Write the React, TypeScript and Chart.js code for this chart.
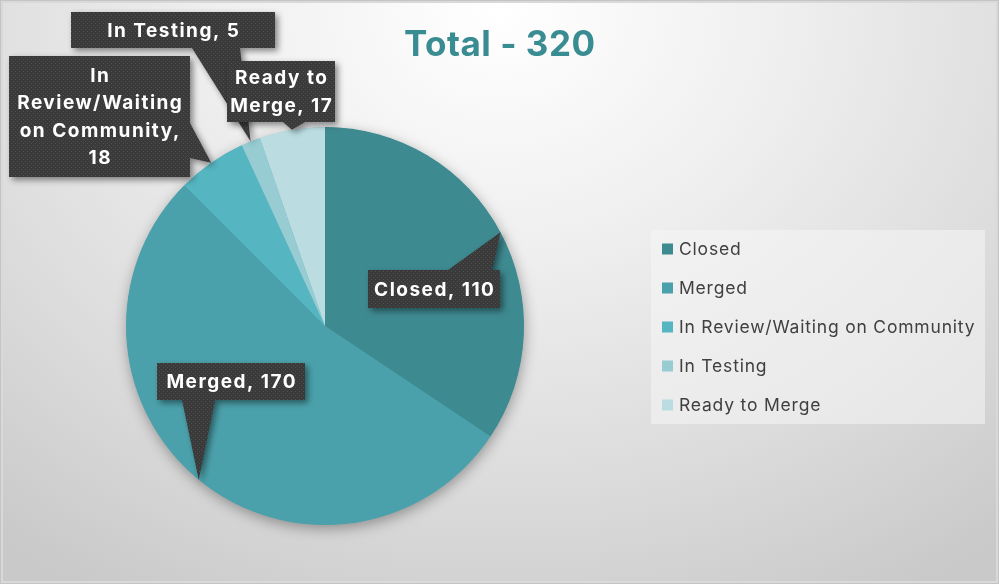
import React, { useEffect, useRef } from "react";
import { Chart, registerables } from "chart.js";

Chart.register(...registerables);

// ---- data ----
const categories = [
  "Closed",
  "Merged",
  "In Review/Waiting on Community",
  "In Testing",
  "Ready to Merge",
];
const values = [110, 170, 18, 5, 17];
const sliceColors = ["#3E8A91", "#4BA1AB", "#55B5C1", "#97CCD3", "#BBDDE2"];
// how each callout label is broken into lines (category, value)
const calloutBreaks = [
  ["Closed, 110"],
  ["Merged, 170"],
  ["In", "Review/Waiting", "on Community,", "18"],
  ["In Testing, 5"],
  ["Ready to", "Merge, 17"],
];
const titleText = "Total - " + values.reduce((a, b) => a + b, 0);

// ---- callout layout (relative to pie centre, in px) ----
// box: [dx, dy, w, h]; base: pointer base points [dx1, dy1, dx2, dy2]
const calloutBoxes = [
  { box: [43, -56, 132, 38], base: [123, -56, 167, -56] },
  { box: [-168, 37, 148, 37], base: [-143, 74, -110, 74] },
  { box: [-316, -270, 181, 121], base: [-135, -203, -135, -168] },
  { box: [-254, -314, 204, 36], base: [-133, -278, -85, -278] },
  { box: [-98, -265, 108, 61], base: [-42, -204, -20, -204] },
];

const FONT = "Inter, 'Open Sans', 'DejaVu Sans', sans-serif";

function makePattern(ctx: CanvasRenderingContext2D) {
  const c = document.createElement("canvas");
  c.width = 4;
  c.height = 4;
  const p = c.getContext("2d")!;
  p.fillStyle = "#3a3a3a";
  p.fillRect(0, 0, 4, 4);
  p.fillStyle = "#505050";
  p.fillRect(1, 1, 1, 1);
  p.fillRect(3, 3, 1, 1);
  return ctx.createPattern(c, "repeat")!;
}

function spacedCentered(ctx: any, text: string, x: number, y: number, spacing: number) {
  ctx.letterSpacing = spacing + "px";
  const w = ctx.measureText(text).width;
  ctx.textAlign = "left";
  ctx.fillText(text, x - (w - spacing) / 2, y);
}

const decorPlugin = {
  id: "decor",
  beforeDatasetsDraw(chart: any) {
    const meta = chart.getDatasetMeta(0);
    const arc = meta.data[0];
    if (!arc) return;
    const ctx = chart.ctx as CanvasRenderingContext2D;
    ctx.save();
    ctx.shadowColor = "rgba(0,0,0,0.35)";
    ctx.shadowBlur = 14;
    ctx.shadowOffsetX = 1;
    ctx.shadowOffsetY = 4;
    ctx.beginPath();
    ctx.arc(arc.x, arc.y, arc.outerRadius - 0.5, 0, Math.PI * 2);
    ctx.fillStyle = sliceColors[1];
    ctx.fill();
    ctx.restore();
  },
  afterDatasetsDraw(chart: any) {
    const ctx = chart.ctx as any;
    const meta = chart.getDatasetMeta(0);
    const pattern = makePattern(ctx);

    meta.data.forEach((arc: any, i: number) => {
      const cfg = calloutBoxes[i];
      const cx = arc.x;
      const cy = arc.y;
      const mid = (arc.startAngle + arc.endAngle) / 2;
      const tipX = cx + Math.cos(mid) * arc.outerRadius;
      const tipY = cy + Math.sin(mid) * arc.outerRadius;
      const [bx, by, bw, bh] = cfg.box;
      const left = cx + bx;
      const top = cy + by;
      const [p1x, p1y, p2x, p2y] = cfg.base;

      ctx.save();
      ctx.beginPath();
      ctx.rect(left, top, bw, bh);
      ctx.moveTo(cx + p1x, cy + p1y);
      ctx.lineTo(tipX, tipY);
      ctx.lineTo(cx + p2x, cy + p2y);
      ctx.closePath();
      ctx.shadowColor = "rgba(0,0,0,0.45)";
      ctx.shadowBlur = 6;
      ctx.shadowOffsetX = 3;
      ctx.shadowOffsetY = 3;
      ctx.fillStyle = pattern;
      ctx.fill();
      ctx.restore();

      const lines = calloutBreaks[i];
      const lh = 27.5;
      ctx.save();
      ctx.font = `bold 19px ${FONT}`;
      ctx.fillStyle = "#ffffff";
      ctx.textBaseline = "middle";
      const startY = top + bh / 2 - ((lines.length - 1) * lh) / 2 + 1;
      lines.forEach((ln, k) => {
        spacedCentered(ctx, ln, left + bw / 2, startY + k * lh, 1.5);
      });
      ctx.restore();
    });

    // title
    ctx.save();
    ctx.font = `bold 35px ${FONT}`;
    ctx.fillStyle = "#3A8C93";
    ctx.textBaseline = "middle";
    spacedCentered(ctx, titleText, chart.width / 2, 45, 0.5);
    ctx.restore();

    // legend
    const lx = 651, ly = 230, lw = 334, lhgt = 194;
    ctx.save();
    ctx.fillStyle = "rgba(245,245,245,0.55)";
    ctx.fillRect(lx, ly, lw, lhgt);
    ctx.font = `17.5px ${FONT}`;
    ctx.letterSpacing = "0.8px";
    ctx.textBaseline = "middle";
    ctx.textAlign = "left";
    categories.forEach((c, i) => {
      const y = ly + 19 + i * 39;
      ctx.fillStyle = sliceColors[i];
      ctx.fillRect(lx + 11, y - 5.5, 11, 11);
      ctx.fillStyle = "#404040";
      ctx.fillText(c, lx + 28, y + 0.5);
    });
    ctx.restore();
  },
};

export default function App() {
  const ref = useRef<HTMLCanvasElement | null>(null);
  useEffect(() => {
    if (!ref.current) return;
    const chart = new Chart(ref.current, {
      type: "pie",
      data: {
        labels: categories,
        datasets: [
          {
            data: values,
            backgroundColor: sliceColors,
            borderWidth: 0,
          },
        ],
      },
      options: {
        responsive: false,
        animation: false,
        devicePixelRatio: 1,
        layout: { padding: { left: 126, top: 127, right: 475, bottom: 59 } },
        plugins: {
          legend: { display: false },
          tooltip: { enabled: false },
          title: { display: false },
        },
      },
      plugins: [decorPlugin],
    });
    return () => chart.destroy();
  }, []);

  return (
    <div
      style={{
        position: "absolute",
        left: 0,
        top: 0,
        width: 999,
        height: 584,
        background:
          "radial-gradient(ellipse 80% 115% at 50% 2%, #ffffff 0%, #efefef 35%, #dcdcdc 70%, #c9c9c9 100%)",
        boxShadow: "inset 0 0 0 1px #c4c4c4, inset 0 0 0 3px #d9d9d9",
        overflow: "hidden",
      }}
    >
      <canvas ref={ref} width={999} height={584} style={{ display: "block" }} />
    </div>
  );
}
